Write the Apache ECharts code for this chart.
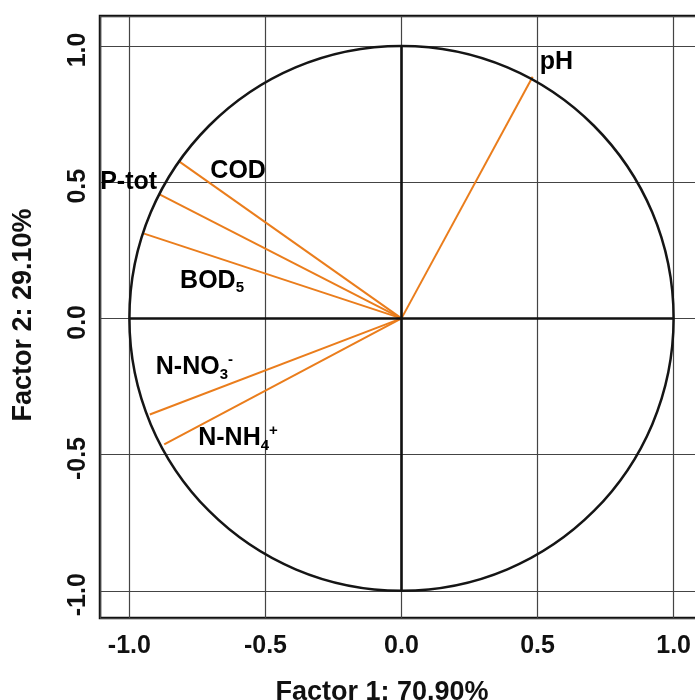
<!DOCTYPE html>
<html>
<head>
<meta charset="utf-8">
<script src="https://cdn.jsdelivr.net/npm/echarts@6/dist/echarts.min.js"></script>
<style>
html,body{margin:0;padding:0;background:#fff;}
#chart{width:695px;height:700px;}
</style>
</head>
<body>
<div id="chart"></div>
<script>
// Variable names (rich text formatted) and loadings on Factor 1 / Factor 2
var variables = ['pH', 'COD', 'P-tot', 'BOD5', 'N-NO3-', 'N-NH4+'];
var labelText = ['pH', 'COD', 'P-tot', 'BOD{sub|5}', 'N-NO{sub|3}{sup|-}', 'N-NH{sub|4}{sup|+}'];
var factor1 = [0.482, -0.820, -0.891, -0.946, -0.925, -0.872];
var factor2 = [0.887, 0.578, 0.456, 0.311, -0.353, -0.463];
var tickValues = [-1.0, -0.5, 0.0, 0.5, 1.0];
var xTitle = 'Factor 1: 70.90%';
var yTitle = 'Factor 2: 29.10%';

// label placement (pixel offsets from vector tips) - style only
var labelAlign = ['left', 'left', 'right', 'left', 'left', 'left'];
var labelOffset = [[7, -15], [32, 10], [-2, -12], [36, 47], [6, -47], [34, -6]];

var ORANGE = '#EA7D1C';
var FONT = 'Liberation Sans, Arial, sans-serif';

var chart = echarts.init(document.getElementById('chart'), null, {renderer: 'canvas'});

function isTick(v) {
  for (var i = 0; i < tickValues.length; i++) if (Math.abs(v - tickValues[i]) < 1e-6) return true;
  return false;
}
function fmt(v) { return isTick(v) ? v.toFixed(1) : ''; }

var series = [];
variables.forEach(function (name, i) {
  series.push({
    type: 'line', name: name, data: [[0, 0], [factor1[i], factor2[i]]],
    symbol: 'none', silent: true, z: 4,
    lineStyle: {color: ORANGE, width: 2}
  });
});
// zero axes (thick, inside the circle)
series.push({
  type: 'line', data: [], symbol: 'none', silent: true, z: 3,
  markLine: {
    silent: true, symbol: 'none', label: {show: false},
    lineStyle: {color: '#111', width: 2.6, type: 'solid'},
    data: [
      [{coord: [-1, 0]}, {coord: [1, 0]}],
      [{coord: [0, -1]}, {coord: [0, 1]}]
    ]
  }
});
// labels
series.push({
  type: 'scatter', symbolSize: 0, silent: true, z: 6,
  itemStyle: {opacity: 1},
  data: variables.map(function (n, i) {
    return {
      value: [factor1[i], factor2[i]],
      label: {
        show: true, position: 'inside', align: labelAlign[i], verticalAlign: 'middle',
        offset: labelOffset[i], opacity: 1,
        formatter: labelText[i],
        color: '#000', fontFamily: FONT, fontWeight: 'bold', fontSize: 25, lineHeight: 30,
        rich: {
          sub: {fontSize: 15, fontWeight: 'bold', fontFamily: FONT, color: '#000', lineHeight: 16, verticalAlign: 'bottom'},
          sup: {fontSize: 15, fontWeight: 'bold', fontFamily: FONT, color: '#000', lineHeight: 16, verticalAlign: 'top'}
        }
      }
    };
  })
});

var option = {
  animation: false,
  backgroundColor: '#fff',
  grid: {left: 100, top: 16, width: 603, height: 602, show: true, borderColor: '#111', borderWidth: 2.5,
         containLabel: false, outerBoundsMode: 'none'},
  xAxis: {
    type: 'value', min: -1.108, max: 1.108, splitNumber: 4,
    axisLine: {show: false}, axisTick: {show: false},
    splitLine: {show: true, lineStyle: {color: '#444', width: 1.2}},
    axisLabel: {formatter: fmt, color: '#111', fontFamily: FONT, fontWeight: 'bold', fontSize: 25, margin: 16, showMinLabel: true, showMaxLabel: true}
  },
  yAxis: {
    type: 'value', min: -1.10, max: 1.11, splitNumber: 4,
    axisLine: {show: false}, axisTick: {show: false},
    splitLine: {show: true, lineStyle: {color: '#444', width: 1.2}},
    axisLabel: {formatter: fmt, rotate: 90, color: '#111', fontFamily: FONT, fontWeight: 'bold', fontSize: 25, margin: 9, padding: [0, 8, 0, 0]}
  },
  series: series
};
chart.setOption(option);

// unit circle drawn through the axis scales
var c = chart.convertToPixel({gridIndex: 0}, [0, 0]);
var px = chart.convertToPixel({gridIndex: 0}, [1, 1]);
chart.setOption({
  graphic: [
    {type: 'ellipse', z: 5, silent: true,
     shape: {cx: c[0], cy: c[1], rx: Math.abs(px[0] - c[0]), ry: Math.abs(c[1] - px[1])},
     style: {fill: 'none', stroke: '#151515', lineWidth: 2.5}},
    {type: 'text', z: 10, x: 382, y: 679,
     style: {text: xTitle, x: 0, y: 0, textAlign: 'center', textVerticalAlign: 'top', fill: '#111', font: 'bold 27px ' + FONT}},
    {type: 'text', z: 10, x: 24, y: 315, rotation: Math.PI / 2,
     style: {text: yTitle, x: 0, y: 0, textAlign: 'center', textVerticalAlign: 'middle', fill: '#111', font: 'bold 27px ' + FONT}}
  ]
});
</script>
</body>
</html>
